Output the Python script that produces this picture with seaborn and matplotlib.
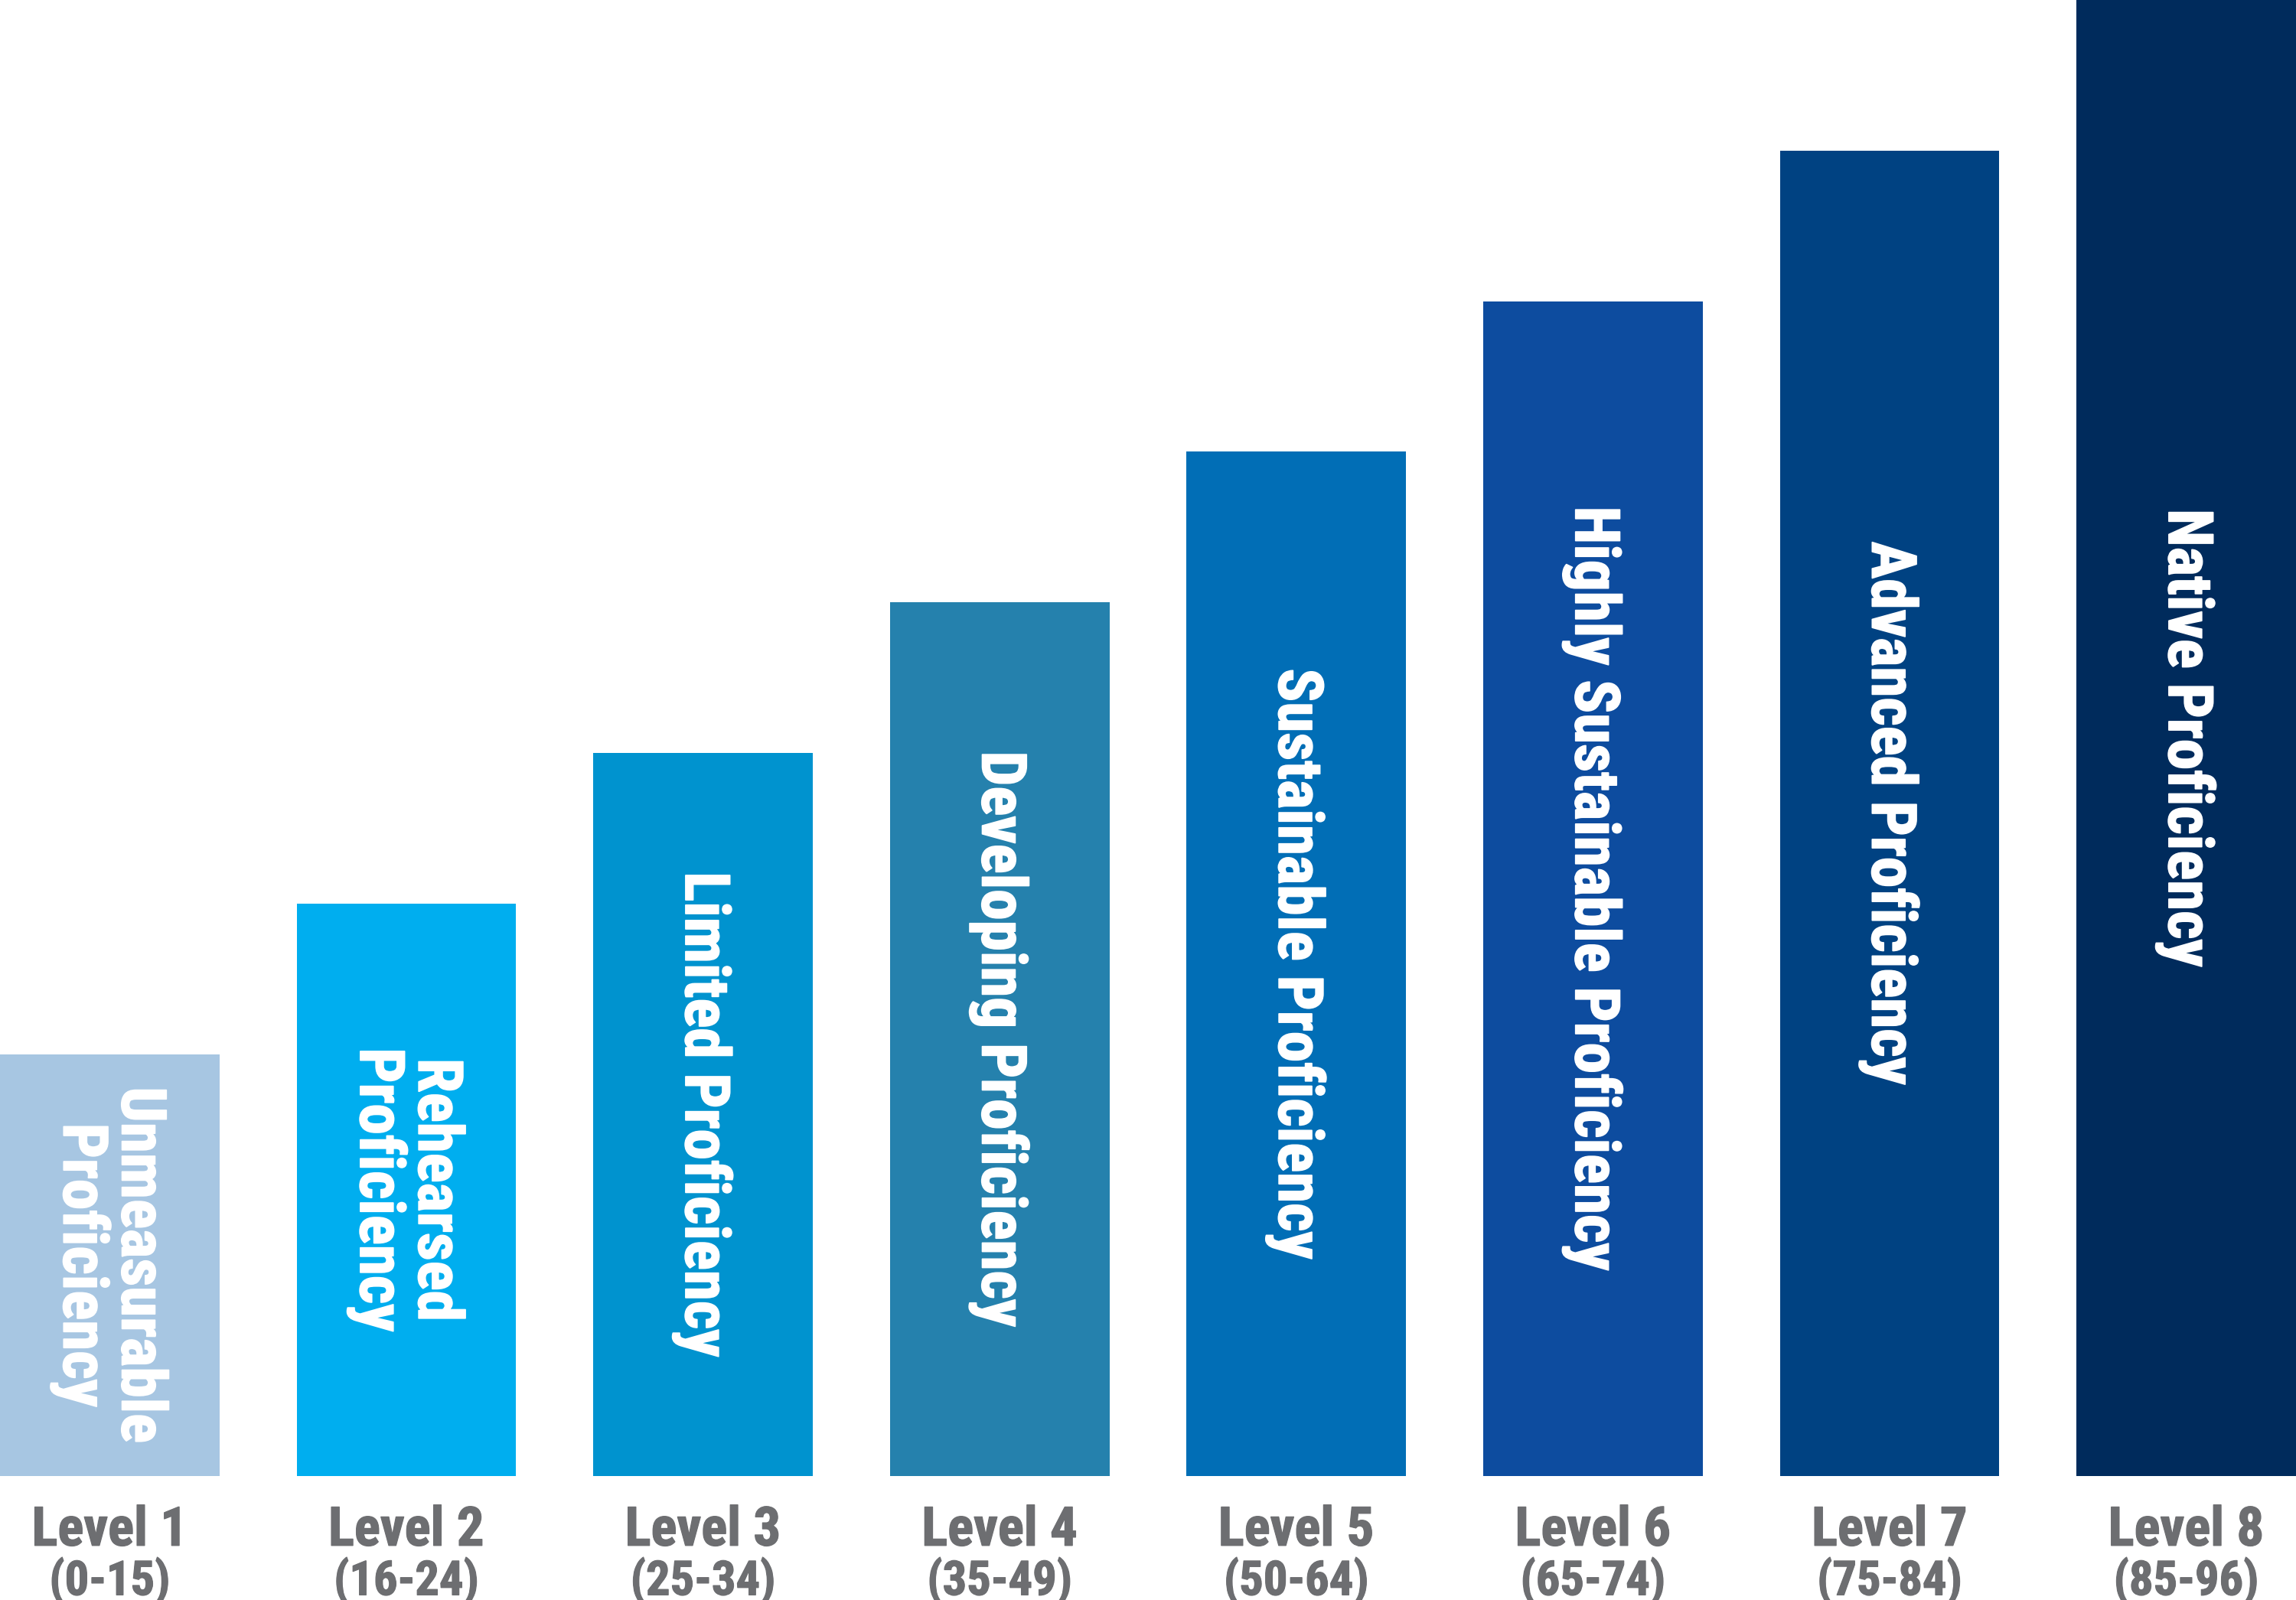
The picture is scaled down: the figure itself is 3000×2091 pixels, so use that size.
import matplotlib
matplotlib.use("Agg")
import matplotlib.pyplot as plt
import matplotlib.patheffects as pe
import seaborn as sns
import pandas as pd

levels = ["Level 1", "Level 2", "Level 3", "Level 4", "Level 5", "Level 6", "Level 7", "Level 8"]
ranges = ["(0-15)", "(16-24)", "(25-34)", "(35-49)", "(50-64)", "(65-74)", "(75-84)", "(85-96)"]
names = ["Unmeasurable\nProficiency", "Rehearsed\nProficiency", "Limited Proficiency",
         "Developing Proficiency", "Sustainable Proficiency", "Highly Sustainable Proficiency",
         "Advanced Proficiency", "Native Proficiency"]
heights = [2.8, 3.8, 4.8, 5.8, 6.8, 7.8, 8.8, 9.8]
colors = ["#A7C6E2", "#00AEEF", "#0093CF", "#2581AD", "#016EB6", "#0D4C9F", "#004282", "#002B5C"]

sns.set_theme(style="white")
FONT = ["Roboto Condensed", "DejaVu Sans"]
plt.rcParams["font.family"] = FONT

df = pd.DataFrame({"level": levels, "height": heights})

fig = plt.figure(figsize=(10, 6.97), dpi=300)
ax = fig.add_axes([0, 0.0775, 1, 0.9225])
sns.barplot(data=df, x="level", y="height", hue="level", palette=colors,
            width=0.74, saturation=1, legend=False, ax=ax, linewidth=0)
ax.set_xlim(-0.37, 7.37)
ax.set_ylim(0, max(heights))
ax.axis("off")

gray = "#6D6E71"
for i, (nm, h) in enumerate(zip(names, heights)):
    ax.text(i, h / 2, nm, rotation=-90, ha="center", va="center", color="white",
            fontsize=19.5, fontweight="bold", linespacing=0.95, rotation_mode="anchor",
            path_effects=[pe.withStroke(linewidth=0.4, foreground="white")])
    ax.annotate(levels[i], xy=(i, 0), xycoords=("data", "axes fraction"),
                xytext=(0, -21.8), textcoords="offset points", ha="center", va="baseline",
                fontsize=17, fontweight="bold", color=gray,
                path_effects=[pe.withStroke(linewidth=0.3, foreground=gray)])
    ax.annotate(ranges[i], xy=(i, 0), xycoords=("data", "axes fraction"),
                xytext=(0, -37.3), textcoords="offset points", ha="center", va="baseline",
                fontsize=15, fontweight="bold", color=gray,
                path_effects=[pe.withStroke(linewidth=0.3, foreground=gray)])

fig.savefig("out.png", dpi=300)
